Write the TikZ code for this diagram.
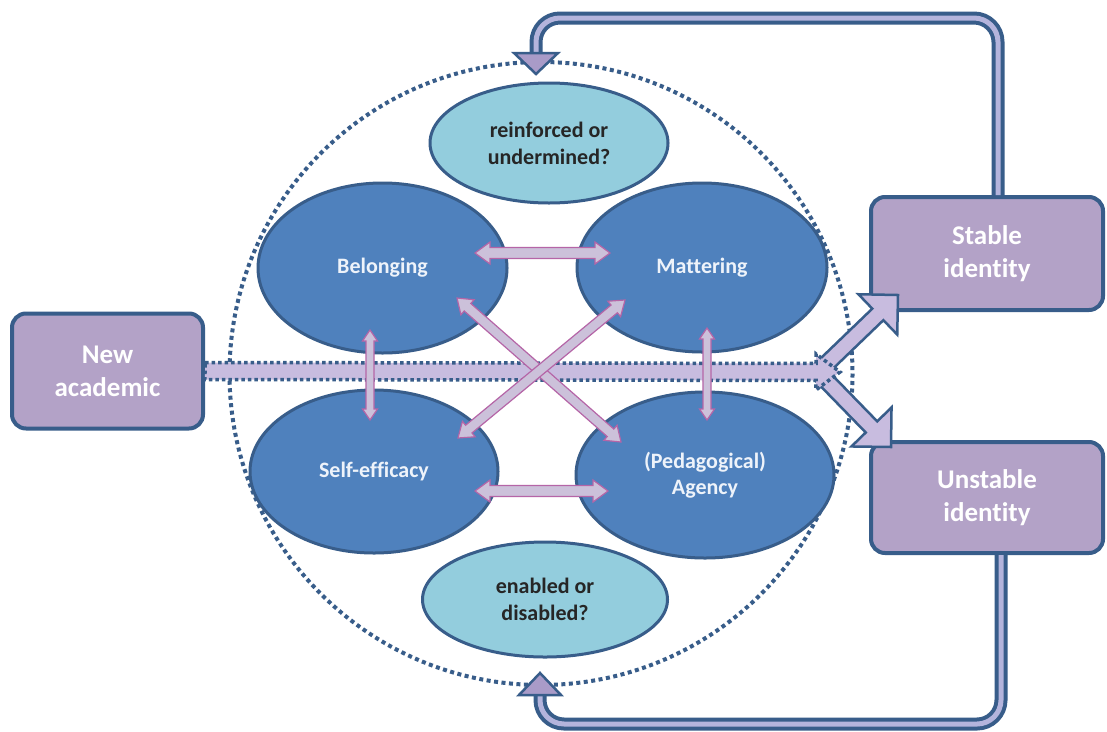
\documentclass[tikz,border=0pt]{standalone}
\usepackage{fontspec}
\setmainfont{Carlito}[Ligatures=NoCommon]
\usetikzlibrary{shapes.geometric,calc}
\definecolor{dk}{HTML}{385D8A}
\definecolor{ellb}{HTML}{4F81BD}
\definecolor{aqua}{HTML}{93CDDD}
\definecolor{boxp}{HTML}{B3A2C7}
\definecolor{lav}{HTML}{CCC1DA}
\definecolor{lavb}{HTML}{B565A7}
\definecolor{mainl}{HTML}{C8BCDF}
\definecolor{feedin}{HTML}{B4B4DC}
\definecolor{headf}{HTML}{A99BC8}
\definecolor{ltxt}{HTML}{EEF3FA}
% single fat arrow: style, A, B, shaft half width, head half width, head length
\newcommand\fatarr[6]{%
  \path[#1] ($(#2)!#4!90:(#3)$) -- ($(#3)!#6!(#2)!#4!-90:(#2)$) -- ($(#3)!#6!(#2)!#5!-90:(#2)$)
    -- (#3) -- ($(#3)!#6!(#2)!#5!90:(#2)$) -- ($(#3)!#6!(#2)!#4!90:(#2)$)
    -- ($(#2)!#4!-90:(#3)$) -- cycle;}
% double fat arrow
\newcommand\dblarr[6]{%
  \path[#1] (#2) -- ($(#2)!#6!(#3)!#5!90:(#3)$) -- ($(#2)!#6!(#3)!#4!90:(#3)$)
    -- ($(#3)!#6!(#2)!#4!-90:(#2)$) -- ($(#3)!#6!(#2)!#5!-90:(#2)$) -- (#3)
    -- ($(#3)!#6!(#2)!#5!90:(#2)$) -- ($(#3)!#6!(#2)!#4!90:(#2)$)
    -- ($(#2)!#6!(#3)!#4!-90:(#3)$) -- ($(#2)!#6!(#3)!#5!-90:(#3)$) -- cycle;}
\begin{document}
\begin{tikzpicture}[x=1pt,y=-1pt,
  darkell/.style={ellipse, draw=dk, line width=3pt, fill=ellb, inner sep=0pt, align=center,
    text=ltxt, font=\fontsize{22}{26}\selectfont\bfseries},
  lightell/.style={ellipse, draw=dk, line width=3pt, fill=aqua, inner sep=0pt, align=center,
    text=black!85, font=\fontsize{22}{27}\selectfont\bfseries},
  idbox/.style={rectangle, rounded corners=14pt, draw=dk, line width=4pt, fill=boxp, align=center,
    text=white, font=\fontsize{27}{33}\selectfont\bfseries, inner sep=0pt},
  smallarr/.style={fill=lav, draw=lavb, line width=1.2pt, line join=miter},
  mainarr/.style={fill=mainl, draw=dk, line width=3.5pt, dash pattern=on 3.5pt off 3pt},
  forkarr/.style={fill=mainl, draw=dk, line width=2.5pt, line join=miter},
  feed/.style={draw=dk, line width=4pt, double=feedin, double distance=5pt, rounded corners=24pt},
  feedhead/.style={fill=headf, draw=dk, line width=2.5pt, line join=miter},
  ring/.style={draw=dk, line width=4pt, dash pattern=on 4pt off 3.5pt}
]
\fill[white] (0,0) rectangle (1107,731);
\useasboundingbox (0,0) rectangle (1107,731);

% dotted ring
\coordinate (rc) at (541,373.5);
\draw[ring] (rc) circle[radius=311.5];

% ellipses
\node[lightell, minimum width=238, minimum height=120] (reinf) at (549,143) {reinforced or\\undermined?};
\node[lightell, minimum width=245, minimum height=115] (enab) at (545,599.5) {enabled or\\disabled?};
\node[darkell, minimum width=249, minimum height=170] (bel) at (382.5,268) {Belonging};
\node[darkell, minimum width=250, minimum height=169] (mat) at (702,267.5) {Mattering};
\node[darkell, minimum width=248, minimum height=163] (self) at (374,471.5) {Self-efficacy};
\node[darkell, minimum width=258, minimum height=166] (agen) at (705,475) {(Pedagogical)\\Agency};

% boxes
\node[idbox, minimum width=191, minimum height=115] (na) at (107.5,371) {New\\academic};
\node[idbox, minimum width=232, minimum height=113] (stable) at (987,253.5) {Stable\\identity};
\node[idbox, minimum width=232, minimum height=111] (unstable) at (987,497.5) {Unstable\\identity};

% main arrow and fork
\coordinate (mtip) at (840,372);
\coordinate (fork) at (818,372);
\coordinate (stip) at (898,295);
\coordinate (utip) at (891,447);
\fatarr{forkarr}{fork}{stip}{8pt}{28pt}{28pt}
\fatarr{forkarr}{fork}{utip}{8pt}{28pt}{28pt}
\fatarr{mainarr}{na.east}{mtip}{8.5pt}{18pt}{24pt}

% small double arrows
\coordinate (h1a) at (475,253); \coordinate (h1b) at (610,253);
\coordinate (h2a) at (475,491); \coordinate (h2b) at (608,491);
\coordinate (v1a) at (370,330); \coordinate (v1b) at (370,420);
\coordinate (v2a) at (707,328); \coordinate (v2b) at (707,420);
\coordinate (d1a) at (457,298); \coordinate (d1b) at (621,442);
\coordinate (d2a) at (625,300); \coordinate (d2b) at (458,438);
\dblarr{smallarr}{h1a}{h1b}{5.5pt}{11pt}{15pt}
\dblarr{smallarr}{h2a}{h2b}{5.5pt}{11pt}{15pt}
\dblarr{smallarr}{v1a}{v1b}{4pt}{7.5pt}{11pt}
\dblarr{smallarr}{v2a}{v2b}{4pt}{7.5pt}{11pt}
\dblarr{smallarr}{d1a}{d1b}{5pt}{10pt}{14pt}
\dblarr{smallarr}{d2a}{d2b}{5pt}{10pt}{14pt}

% feedback loops
\coordinate (ttip) at (536,74);
\coordinate (btip) at (540,673);
\draw[feed] ($(stable.north)+(11,0)$) |- ($(ttip)+(0,-56)$) -- ($(ttip)+(0,-20)$);
\draw[feed] ($(unstable.south)+(14,0)$) |- ($(btip)+(0,51)$) -- ($(btip)+(0,21)$);
\path[feedhead] (ttip) -- ($(ttip)+(-22,-21)$) -- ($(ttip)+(22,-21)$) -- cycle;
\path[feedhead] (btip) -- ($(btip)+(-21,22)$) -- ($(btip)+(21,22)$) -- cycle;
\end{tikzpicture}
\end{document}
